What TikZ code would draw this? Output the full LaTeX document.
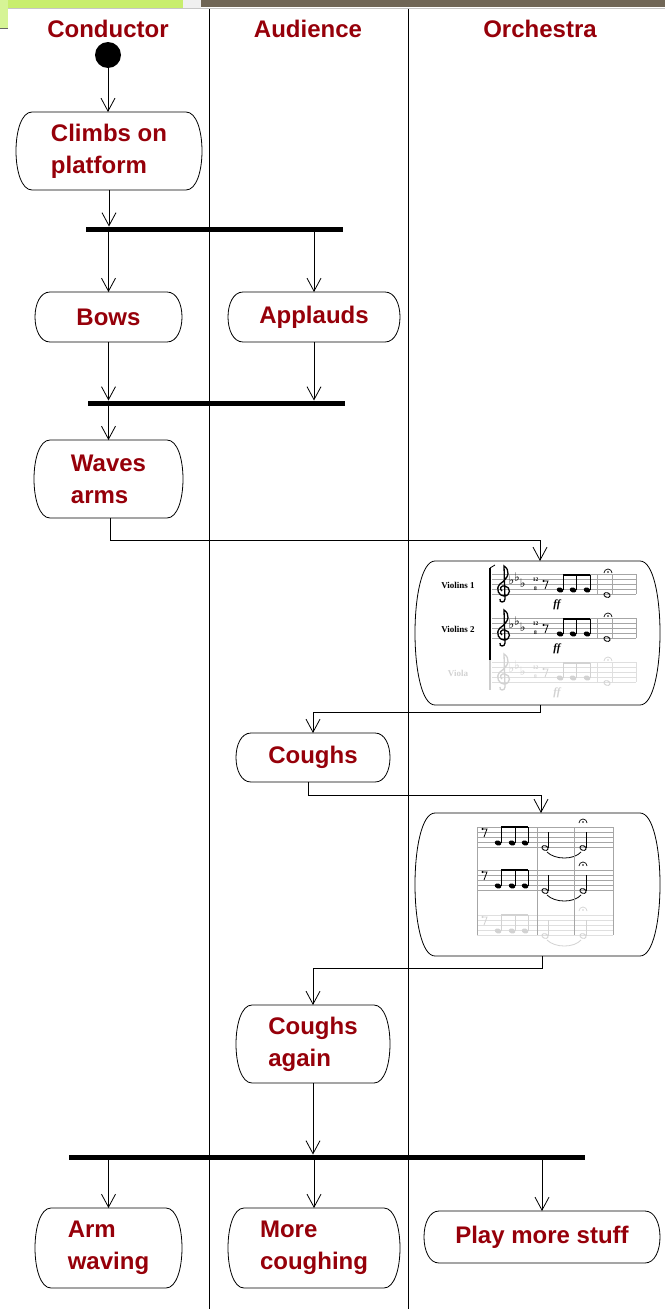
\documentclass[tikz,border=0pt]{standalone}
\usepackage{fontspec}
\setmainfont{Liberation Sans}
\newfontfamily\scoreserif{Liberation Serif}
\newfontfamily\symfont{DejaVu Sans}
\usetikzlibrary{arrows.meta}
\definecolor{tred}{RGB}{150,0,10}
\definecolor{limeA}{RGB}{200,238,110}
\definecolor{limeB}{RGB}{214,244,150}
\definecolor{brownbar}{RGB}{112,102,86}
\newcommand\actout[3]{%
  \draw[boxline] ([xshift=#2pt]#1.north west) -- ([xshift=-#2pt]#1.north east)
    .. controls ([xshift=#3pt]#1.north east) and ([xshift=#3pt]#1.south east) .. ([xshift=-#2pt]#1.south east)
    -- ([xshift=#2pt]#1.south west)
    .. controls ([xshift=-#3pt]#1.south west) and ([xshift=-#3pt]#1.north west) .. cycle;}
\newcommand\fermata[2]{\draw[line width=0.7pt] (#1-4,#2+1) arc (180:360:4); \fill (#1,#2) circle (0.9);}
\begin{document}
\begin{tikzpicture}[x=1pt,y=-1pt,
  boxline/.style={line width=0.8pt, black},
  act/.style={draw=none, inner sep=0pt, outer sep=0pt, align=left, text=tred,
     font=\fontsize{24}{32}\selectfont\bfseries},
  lanetitle/.style={text=tred, font=\fontsize{24}{28}\selectfont\bfseries, anchor=base, inner sep=0pt},
  arr/.style={-{Straight Barb[length=13pt,width=14pt]}, line width=0.8pt},
  bar/.style={fill=black, draw=none, inner sep=0pt, outer sep=0pt, minimum height=5pt},
  startnode/.style={circle, fill=black, draw=none, minimum size=26pt, inner sep=0pt, outer sep=0pt},
  lane/.style={line width=0.8pt, black},
  stf/.style={line width=0.5pt, gray!70},
  stffade/.style={line width=0.5pt, gray!25}]
\useasboundingbox (0,0) rectangle (665,1309);
\fill[white] (0,0) rectangle (665,1309);
% top decorations
\fill[limeA] (0,0) rectangle (183,8);
\fill[limeB] (0,0) rectangle (8,28);
\draw[line width=0.8pt, gray!80!black] (0,28.5) -- (8,28.5);
\fill[gray!12] (183,0) rectangle (201,8);
\fill[brownbar] (201,0) rectangle (665,7);
\draw[line width=0.6pt, gray!45] (8,8.5) -- (665,8.5);
% swimlanes
\draw[lane] (209.5,9) -- (209.5,1309);
\draw[lane] (408,9) -- (408,1309);
\node[lanetitle] (tcond) at (108,37) {Conductor};
\node[lanetitle] (taud) at (308,37) {Audience};
\node[lanetitle] (torch) at (540,37) {Orchestra};
% nodes
\node[startnode] (start) at (108,55) {};
\node[act, minimum width=186pt, minimum height=78pt] (climbs) at (109,151) {Climbs on\\platform};
\node[bar, minimum width=257pt] (fork1) at (214.5,229) {};
\node[act, minimum width=147pt, minimum height=50pt] (bows) at (108.5,317) {Bows};
\node[act, minimum width=172pt, minimum height=50pt] (applauds) at (314,317) {Applauds};
\node[bar, minimum width=257pt] (join1) at (216.5,403) {};
\node[act, minimum width=149pt, minimum height=78pt] (waves) at (108.5,479) {Waves\\arms};
\node[act, minimum width=245pt, minimum height=144pt] (score1) at (537.5,633) {};
\node[act, minimum width=154pt, minimum height=49pt] (coughs) at (313,757.5) {Coughs};
\node[act, minimum width=245pt, minimum height=143pt] (score2) at (537.5,884.5) {};
\node[act, minimum width=154pt, minimum height=78pt] (again) at (313,1044) {Coughs\\again};
\node[bar, minimum width=516pt] (fork2) at (327,1157) {};
\node[act, minimum width=147pt, minimum height=80pt] (armw) at (108.5,1248) {Arm\\waving};
\node[act, minimum width=172pt, minimum height=80pt] (morec) at (314,1248) {More\\coughing};
\node[act, minimum width=236pt, minimum height=52pt] (playm) at (542,1237) {Play more stuff};
% outlines
\actout{climbs}{16}{5.33}
\actout{bows}{15}{5}
\actout{applauds}{15}{5}
\actout{waves}{16}{5.33}
\actout{score1}{20}{6.67}
\actout{coughs}{15}{5}
\actout{score2}{20}{6.67}
\actout{again}{16}{5.33}
\actout{armw}{16}{5.33}
\actout{morec}{16}{5.33}
\actout{playm}{15}{5}
% connectors
\draw[arr] (start.south) -- (start.south |- climbs.north);
\draw[arr] (climbs.south) -- (climbs.south |- fork1.north);
\draw[arr] (fork1.south -| bows.north) -- (bows.north);
\draw[arr] (fork1.south -| applauds.north) -- (applauds.north);
\draw[arr] (bows.south) -- (bows.south |- join1.north);
\draw[arr] (applauds.south) -- (applauds.south |- join1.north);
\draw[arr] (join1.south -| waves.north) -- (waves.north);
\draw[arr] ([xshift=1.5pt]waves.south) -- ++(0,22) -| ([xshift=2.5pt]score1.north);
\draw[arr] ([xshift=3pt]score1.south) -- ++(0,7) -| (coughs.north);
\draw[arr] ([xshift=-5pt]coughs.south) -- ++(0,13) -| ([xshift=3.5pt]score2.north);
\draw[arr] ([xshift=5pt]score2.south) -- ++(0,12) -| (again.north);
\draw[arr] (again.south) -- (again.south |- fork2.north);
\draw[arr] (fork2.south -| armw.north) -- (armw.north);
\draw[arr] (fork2.south -| morec.north) -- (morec.north);
\draw[arr] (fork2.south -| playm.north) -- (playm.north);
% ---------- score 1 ----------
\foreach \off/\sty/\col/\lab in {0/stf/black/{Violins 1}, 44/stf/black/{Violins 2}, 88/stffade/gray!35/{Viola}}{
  \begin{scope}[shift={(0,\off)}]
    \foreach \k in {0,...,4} \draw[\sty] (492,574+5*\k) -- (636,574+5*\k);
    \draw[\sty] (597,574) -- (597,594);
    \draw[\sty] (612,574) -- (612,594);
    \draw[\sty] (636,574) -- (636,594);
    \node[text=\col, font=\scoreserif\bfseries\fontsize{9}{10}\selectfont, inner sep=0pt] at (458,585) {\lab};
    \draw[line width=1.3pt, \col] (500,599) .. controls (499,603) and (505,603) .. (505,599) -- (504,566)
       .. controls (510,570) and (510,577) .. (500,584) .. controls (495,589) and (499,596) .. (504,596)
       .. controls (511,596) and (511,587) .. (505,586) .. controls (501,585) and (499,589) .. (502,591);
    \node[text=\col, font=\symfont\fontsize{12}{12}\selectfont, inner sep=0pt, inner xsep=-0.5pt] at (517,580)
       {♭\raisebox{3pt}{♭}\raisebox{-2.5pt}{♭}};
    \node[text=\col, align=center, font=\scoreserif\bfseries\fontsize{5.5}{8.5}\selectfont, inner sep=0pt] at (535.5,584) {12\\8};
    \draw[line width=0.8pt, \col] (543,581) -- (548,581) -- (545,589);
    \fill[\col] (543.5,581) circle (1.2);
    \foreach \hx in {560,573,587} {
      \fill[\col, rotate around={-20:(\hx,590)}] (\hx,590) ellipse (3.4 and 2.5);
      \draw[line width=0.6pt, \col] (\hx+3,590) -- (\hx+3,575);
    }
    \draw[line width=2.4pt, \col] (563,575) -- (590,575);
    \draw[line width=0.9pt, \col, rotate around={-20:(607,595)}] (607,595) ellipse (3.2 and 2.3);
    \begin{scope}[\col]\fermata{608}{572}\end{scope}
  \end{scope}}
\node[font=\scoreserif\bfseries\itshape\fontsize{11}{11}\selectfont, inner sep=0pt] at (557,605) {ff};
\node[font=\scoreserif\bfseries\itshape\fontsize{11}{11}\selectfont, inner sep=0pt] at (557,649) {ff};
\node[text=gray!35, font=\scoreserif\bfseries\itshape\fontsize{11}{11}\selectfont, inner sep=0pt] at (557,693) {ff};
\draw[line width=2pt] (490,568) -- (490,660);
\draw[line width=2pt, gray!40] (490,660) -- (490,690);
\draw[line width=0.8pt] (490,568) -- (495,565);
% ---------- score 2 ----------
\foreach \off/\sty/\col in {0/stf/black, 43/stf/black, 88/stffade/gray!35}{
  \begin{scope}[shift={(0,\off)}]
    \foreach \k in {0,...,4} \draw[\sty] (477,827+5*\k) -- (613,827+5*\k);
    \draw[line width=0.8pt, \col] (482,829) -- (487,829) -- (484,837);
    \fill[\col] (482.5,829) circle (1.2);
    \foreach \hx in {498,512,525} {
      \fill[\col, rotate around={-20:(\hx,843)}] (\hx,843) ellipse (3.4 and 2.5);
      \draw[line width=0.6pt, \col] (\hx+3,843) -- (\hx+3,827);
    }
    \draw[line width=2.4pt, \col] (501,827) -- (528,827);
    \draw[line width=0.9pt, \col, rotate around={-20:(545,848)}] (545,848) ellipse (3.2 and 2.3);
    \draw[line width=0.9pt, \col, rotate around={-20:(583,848)}] (583,848) ellipse (3.2 and 2.3);
    \draw[line width=0.6pt, \col] (548,848) -- (548,832);
    \draw[line width=0.6pt, \col] (586,848) -- (586,832);
    \draw[line width=0.8pt, \col] (547,852) .. controls (555,860) and (574,860) .. (581,852);
    \begin{scope}[\col]\fermata{583}{822}\end{scope}
  \end{scope}}
\draw[stf] (477,827) -- (477,935);
\draw[stf] (537,827) -- (537,935);
\draw[stf] (574,827) -- (574,935);
\draw[stf] (613,827) -- (613,935);
\end{tikzpicture}
\end{document}
